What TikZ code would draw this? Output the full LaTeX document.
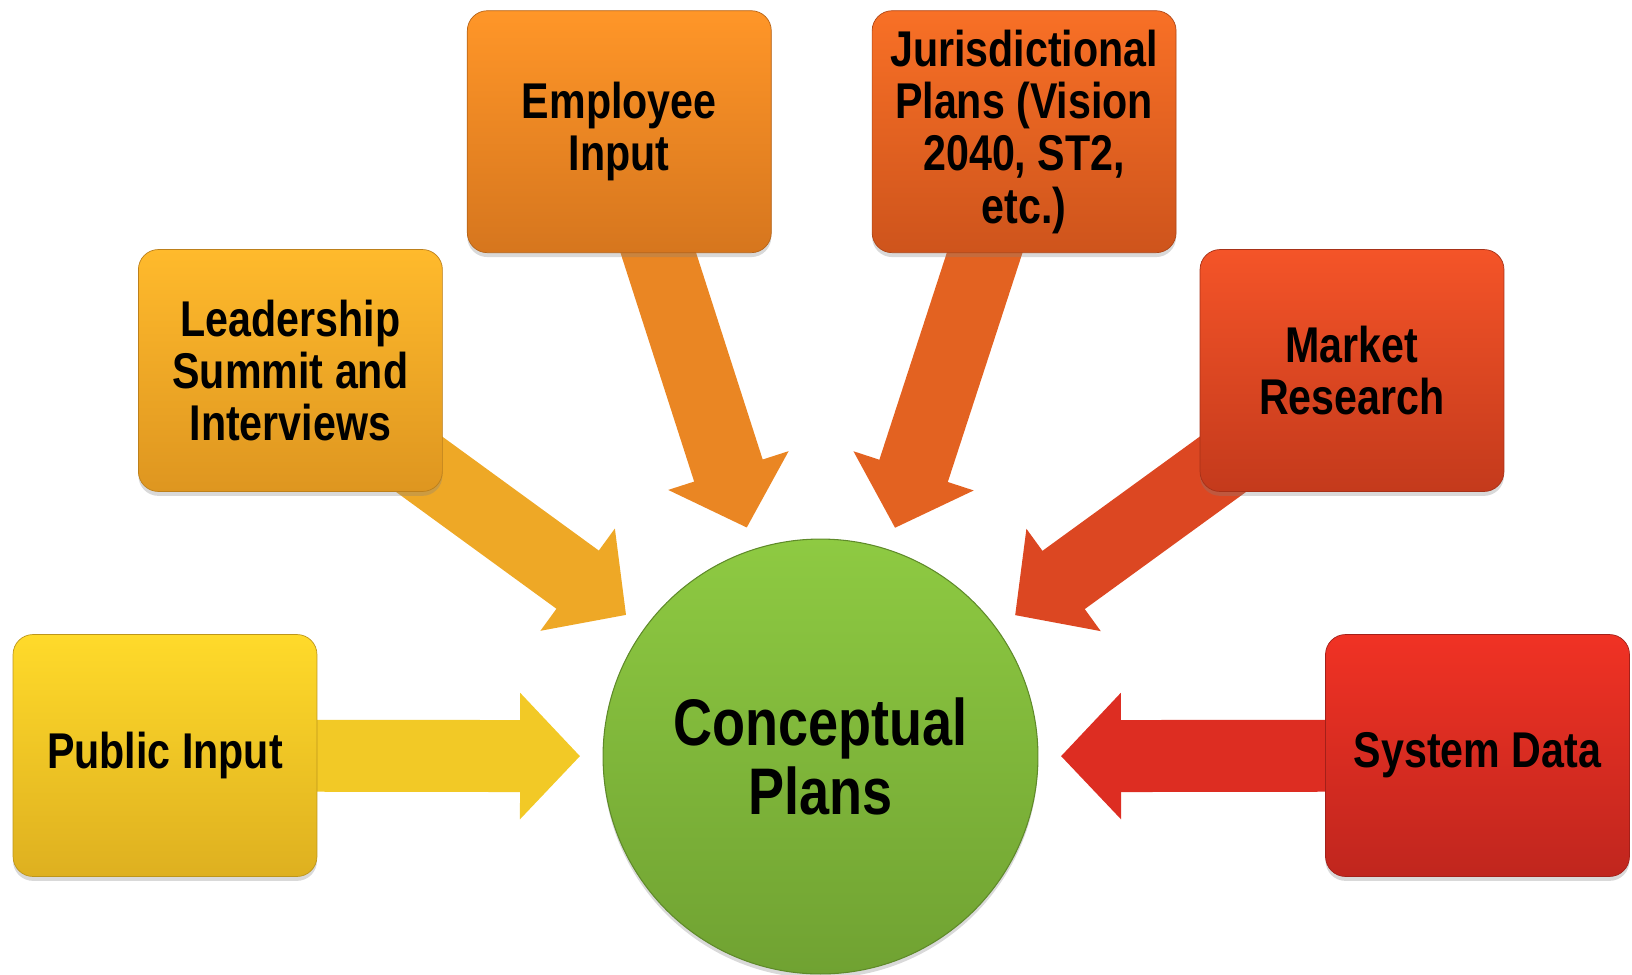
\documentclass[tikz,border=0pt]{standalone}
\usepackage{fontspec}
\setmainfont{Liberation Sans}[FakeStretch=0.82]
\usetikzlibrary{arrows.meta,shadows,backgrounds,positioning}

\definecolor{pubtop}{RGB}{255,218,42}
\definecolor{pubbot}{RGB}{222,176,32}
\definecolor{leadtop}{RGB}{255,186,44}
\definecolor{leadbot}{RGB}{222,150,32}
\definecolor{emptop}{RGB}{255,150,40}
\definecolor{empbot}{RGB}{214,118,30}
\definecolor{jurtop}{RGB}{248,112,38}
\definecolor{jurbot}{RGB}{206,84,28}
\definecolor{mkttop}{RGB}{244,84,40}
\definecolor{mktbot}{RGB}{196,58,28}
\definecolor{systop}{RGB}{240,50,36}
\definecolor{sysbot}{RGB}{192,38,30}
\definecolor{cptop}{RGB}{142,202,66}
\definecolor{cpbot}{RGB}{112,162,50}

\begin{document}
\begin{tikzpicture}[x=0.02cm, y=-0.02cm]
  \tikzstyle{every node} = [outer sep = 0,
                            align = center]
  \tikzstyle{box} = [rounded corners = 0.4cm,
                     minimum width = 6.08cm,
                     minimum height = 4.84cm,
                     font = \fontsize{28.6}{29.8}\selectfont\bfseries,
                     drop shadow = {opacity = 0.3, shadow xshift = 0pt, shadow yshift = -2.5pt}]
  \tikzstyle{feed} = [line width = 1.44cm,
                      -{Triangle[width = 2.46cm, length = 1.2cm]},
                      shorten > = 0.46cm]
\useasboundingbox (0,0) rectangle (1632,974);

% centre
\node[circle, minimum size = 8.7cm, top color = cptop, bottom color = cpbot,
      draw = cpbot!85!black, line width = 0.6pt,
      drop shadow = {opacity = 0.3, shadow xshift = 0pt, shadow yshift = -2.5pt},
      font = \fontsize{37.5}{39.3}\selectfont\bfseries] (cp) at (820.5,756.5) {Conceptual\\Plans};

% sources
\node[box, top color = pubtop, bottom color = pubbot, draw = pubbot!85!black] (pub) at (165,755.5) {Public Input};
\node[box, top color = leadtop, bottom color = leadbot, draw = leadbot!85!black] (lead) at (290.4,370.5) {Leadership\\Summit and\\Interviews};
\node[box, top color = emptop, bottom color = empbot, draw = empbot!85!black] (emp) at (619.3,131.7) {Employee\\Input};
\node[box, top color = jurtop, bottom color = jurbot, draw = jurbot!85!black] (jur) at (1024.1,131.7) {Jurisdictional\\Plans (Vision\\2040, ST2,\\etc.)};
\node[box, top color = mkttop, bottom color = mktbot, draw = mktbot!85!black] (mkt) at (1352,370.5) {Market\\Research};
\node[box, top color = systop, bottom color = sysbot, draw = sysbot!85!black] (sys) at (1477.5,755.5) {System Data};

% block arrows behind the boxes
\begin{scope}[on background layer]
  \draw[feed, color = pubtop!60!pubbot] (pub.center) -- (cp);
  \draw[feed, color = leadtop!50!leadbot] (lead.center) -- (cp);
  \draw[feed, color = emptop!50!empbot] (emp.center) -- (cp);
  \draw[feed, color = jurtop!50!jurbot] (jur.center) -- (cp);
  \draw[feed, color = mkttop!50!mktbot] (mkt.center) -- (cp);
  \draw[feed, color = systop!60!sysbot] (sys.center) -- (cp);
\end{scope}

\end{tikzpicture}
\end{document}
